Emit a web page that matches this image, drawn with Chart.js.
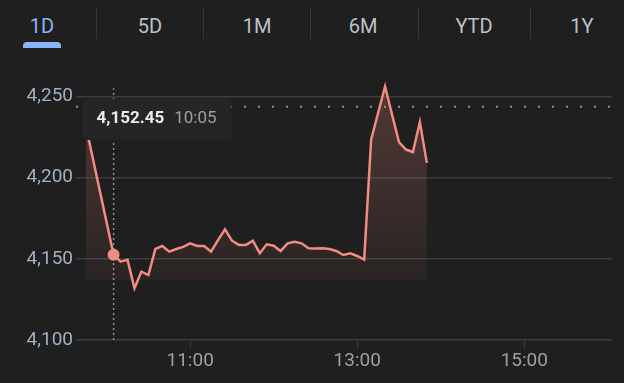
<!DOCTYPE html>
<html>
<head>
<meta charset="utf-8">
<script src="https://cdn.jsdelivr.net/npm/chart.js@4/dist/chart.umd.min.js"></script>
<style>
  html, body { margin: 0; padding: 0; background: #1f1f1f; }
  body { width: 624px; height: 383px; position: relative; overflow: hidden; font-family: Roboto, sans-serif; }
  #chart { position: absolute; left: 0; top: 0; }
  .tab { position: absolute; top: 12px; width: 80px; margin-left: -40px; text-align: center;
         font-size: 20px; font-weight: 400; color: #bdc1c6; line-height: 28px; }
  .tab.on { color: #8ab4f8; }
  .div { position: absolute; top: 8px; width: 1px; height: 31px; background: #34373a; }
  .bar { position: absolute; left: 23px; top: 42px; width: 38px; height: 6px; background: #8ab4f8;
         border-radius: 4px 4px 0 0; }
</style>
</head>
<body>
<div id="tabs"></div>
<canvas id="chart" width="624" height="383"></canvas>
<script>
// ranges shown on top
const tabLabels = ['1D', '5D', '1M', '6M', 'YTD', '1Y'];
const tabCenters = [42, 150, 257, 363, 474, 582];
const tabDividers = [96, 203, 310, 418, 530];

// intraday prices (5 min)
const times = ['9:45', '10:05', '10:10', '10:15', '10:20', '10:25', '10:30', '10:35', '10:40', '10:45',
  '10:50', '10:55', '11:00', '11:05', '11:10', '11:15', '11:20', '11:25', '11:30', '11:35',
  '11:40', '11:45', '11:50', '11:55', '12:00', '12:05', '12:10', '12:15', '12:20', '12:25',
  '12:30', '12:35', '12:40', '12:45', '12:50', '12:55', '13:00', '13:05', '13:10', '13:15',
  '13:20', '13:25', '13:30', '13:35', '13:40', '13:45', '13:50'];
const prices = [4232, 4152.45, 4148.2, 4149.3, 4131.9, 4142.1, 4140, 4156, 4157.9, 4154.4,
  4156, 4157.3, 4159.5, 4157.9, 4157.9, 4154.4, 4161.5, 4168.1, 4161.1, 4158.5,
  4158.5, 4161.1, 4153.4, 4158.9, 4158, 4154.8, 4159.5, 4160.5, 4159.5, 4156.4,
  4156.3, 4156.4, 4156, 4154.8, 4152.3, 4153.4, 4151.7, 4149.5, 4223.3, 4239.7,
  4256, 4238.8, 4221.8, 4217.2, 4215.7, 4234.1, 4209];
const prevClose = 4243.6;
const fillBase = 4137;
const hoverTime = '10:05';

const yTicks = [4100, 4150, 4200, 4250];
const xTicks = ['11:00', '13:00', '15:00'];
const xStart = '9:38';
const xEnd = '16:03';

function mins(t) {
    let p = t.split(':');
    return parseInt(p[0]) * 60 + parseInt(p[1]);
}
function hhmm(m) {
    let h = Math.floor(m / 60), mm = m % 60;
    return h + ':' + (mm < 10 ? '0' : '') + mm;
}

// tabs
let tabs = document.getElementById('tabs');
tabLabels.forEach((t, i) => {
    let d = document.createElement('div');
    d.className = 'tab' + (i == 0 ? ' on' : '');
    d.style.left = tabCenters[i] + 'px';
    d.textContent = t;
    tabs.appendChild(d);
});
tabDividers.forEach(x => {
    let d = document.createElement('div');
    d.className = 'div';
    d.style.left = x + 'px';
    tabs.appendChild(d);
});
let bar = document.createElement('div');
bar.className = 'bar';
tabs.appendChild(bar);

const lineColor = '#f28b82';
const gridColor = '#3a3d40';
const hoverIdx = times.indexOf(hoverTime);
const hoverX = mins(hoverTime);

let series = times.map((t, i) => ({ x: mins(t), y: prices[i] }));

// the dark box with price and time
const tipBox = {
    id: 'tipBox',
    afterDatasetsDraw(chart) {
        let ctx = chart.ctx;
        let cx = chart.scales.x.getPixelForValue(hoverX);
        let top = chart.chartArea.top + 19;
        ctx.save();
        ctx.fillStyle = '#252525';
        ctx.beginPath();
        ctx.roundRect(cx - 31, top, 149, 41, 4);
        ctx.fill();
        ctx.textBaseline = 'middle';
        ctx.font = 'bold 17px Roboto';
        ctx.fillStyle = '#e8eaed';
        let v = prices[hoverIdx].toLocaleString('en-US', { minimumFractionDigits: 2 });
        ctx.fillText(v, cx - 17, top + 20);
        let w = ctx.measureText(v).width;
        ctx.font = '17px Roboto';
        ctx.fillStyle = '#9aa0a6';
        ctx.fillText(hoverTime, cx - 17 + w + 10, top + 20);
        ctx.restore();
    }
};

let chart = new Chart(document.getElementById('chart'), {
    type: 'line',
    data: {
        datasets: [{
            data: series,
            borderColor: lineColor,
            borderWidth: 2.5,
            tension: 0,
            fill: { value: fillBase },
            backgroundColor: (c) => {
                let a = c.chart.chartArea;
                if (!a) return 'rgba(242,139,130,0.15)';
                let ys = c.chart.scales.y;
                let g = c.chart.ctx.createLinearGradient(0, ys.getPixelForValue(4256), 0, ys.getPixelForValue(fillBase));
                g.addColorStop(0, 'rgba(242,139,130,0.24)');
                g.addColorStop(1, 'rgba(242,139,130,0.05)');
                return g;
            },
            pointRadius: (c) => c.dataIndex == hoverIdx ? 6 : 0,
            pointBackgroundColor: lineColor,
            pointBorderWidth: 0,
            clip: false
        }, {
            data: [{ x: mins(xStart), y: prevClose }, { x: mins(xEnd), y: prevClose }],
            borderColor: '#8f9396',
            borderWidth: 2,
            borderDash: [2, 12],
            pointRadius: 0,
            fill: false
        }, {
            data: [{ x: hoverX, y: yTicks[0] }, { x: hoverX, y: 4255 }],
            borderColor: '#8f9396',
            borderWidth: 1.5,
            borderDash: [2, 3],
            pointRadius: 0,
            fill: false
        }]
    },
    options: {
        responsive: false,
        animation: false,
        layout: { padding: { top: 80, right: 12, left: 0, bottom: 0 } },
        plugins: { legend: { display: false }, tooltip: { enabled: false } },
        scales: {
            x: {
                type: 'linear',
                min: mins(xStart),
                max: mins(xEnd),
                afterBuildTicks: (s) => { s.ticks = xTicks.map(t => ({ value: mins(t) })); },
                afterFit: (s) => { s.height = 43; },
                grid: { drawOnChartArea: false, drawTicks: true, tickLength: 8, color: gridColor },
                border: { display: false },
                ticks: {
                    color: '#9aa0a6',
                    font: { family: 'Roboto', size: 19 },
                    padding: 2,
                    maxRotation: 0,
                    autoSkip: false,
                    callback: (v) => hhmm(v)
                }
            },
            y: {
                min: 4100,
                max: 4260,
                afterBuildTicks: (s) => { s.ticks = yTicks.map(v => ({ value: v })); },
                afterFit: (s) => { s.width = 76; },
                grid: { drawTicks: false, color: gridColor, lineWidth: 1.5 },
                border: { display: false },
                ticks: {
                    color: '#9fb0c3',
                    font: { family: 'Roboto', size: 19 },
                    padding: 3,
                    callback: (v) => v.toLocaleString('en-US')
                }
            }
        }
    },
    plugins: [tipBox]
});
</script>
</body>
</html>
